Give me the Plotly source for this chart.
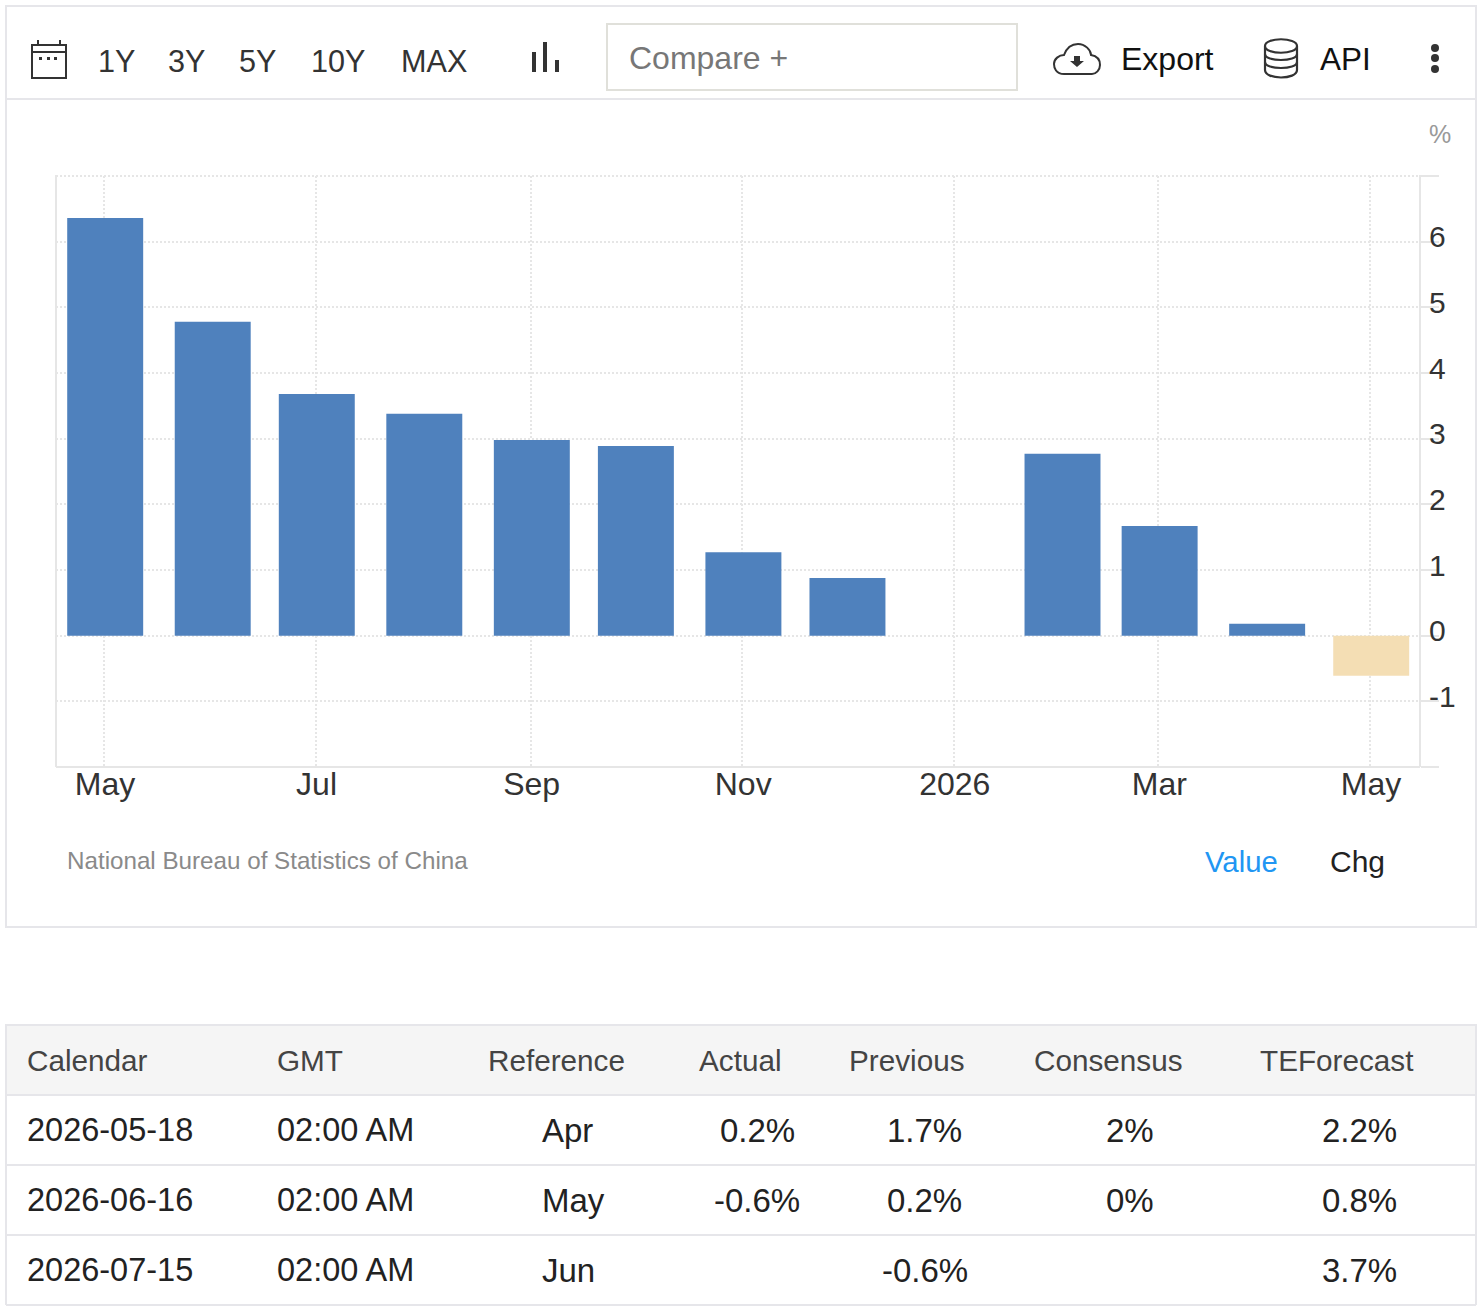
# Chart panel with toolbar, bars and calendar table

import plotly.graph_objects as go

W = 1482
H = 1308

# chart data
months = ["2025-05-01", "2025-06-01", "2025-07-01", "2025-08-01", "2025-09-01", "2025-10-01", "2025-11-01",
          "2025-12-01", "2026-01-01", "2026-02-01", "2026-03-01", "2026-04-01", "2026-05-01"]
values = [6.36, 4.78, 3.68, 3.38, 2.98, 2.89, 1.27, 0.88, None, 2.77, 1.67, 0.18, -0.61]
bar_colors = ["#4f81bd"] * 12 + ["#f4deb4"]

x_tick_vals = ["2025-05-01", "2025-07-01", "2025-09-01", "2025-11-01", "2026-01-01", "2026-03-01", "2026-05-01"]
x_tick_text = ["May", "Jul", "Sep", "Nov", "2026", "Mar", "May"]
y_tick_vals = [-2, -1, 0, 1, 2, 3, 4, 5, 6, 7]
y_tick_text = ["", "-1", "0", "1", "2", "3", "4", "5", "6", ""]

# toolbar text
ranges = ["1Y", "3Y", "5Y", "10Y", "MAX"]
range_x = [97, 167, 238, 310, 400]

# table
table_header = ["Calendar", "GMT", "Reference", "Actual", "Previous", "Consensus", "TEForecast"]
calendar = ["2026-05-18", "2026-06-16", "2026-07-15"]
gmt = ["02:00 AM", "02:00 AM", "02:00 AM"]
reference = ["Apr", "May", "Jun"]
actual = ["0.2%", "-0.6%", ""]
previous = ["1.7%", "0.2%", "-0.6%"]
consensus = ["2%", "0%", ""]
te_forecast = ["2.2%", "0.8%", "3.7%"]

FONT = "Liberation Sans"
DARK = "#333333"
LINE = "#e6e6ea"
GRID = "#e6e6e6"


def px(x):
    return x / W


def py(y):
    return 1 - y / H


def label(text, x, y, size, color=DARK, anchor="left"):
    return dict(text=text, x=px(x), y=py(y), xref="paper", yref="paper", xanchor=anchor, yanchor="middle",
                showarrow=False, borderpad=0, font=dict(family=FONT, size=size, color=color))


def rect(x0, y0, x1, y1, line=LINE, width=2, fill=None):
    return dict(type="rect", xref="paper", yref="paper", x0=px(x0), x1=px(x1), y0=py(y0), y1=py(y1),
                line=dict(color=line, width=width), fillcolor=fill, layer="below")


def seg(x0, y0, x1, y1, color=LINE, width=2, dash=None):
    return dict(type="line", xref="paper", yref="paper", x0=px(x0), x1=px(x1), y0=py(y0), y1=py(y1),
                line=dict(color=color, width=width, dash=dash), layer="below")


def dot(x, y, r=4):
    return dict(type="circle", xref="paper", yref="paper", x0=px(x - r), x1=px(x + r), y0=py(y - r), y1=py(y + r),
                fillcolor=DARK, line=dict(width=0))


def path(points, color=DARK, width=2, fill=None):
    # points are page pixels: ("M", x, y) or ("L", x, y) or ("C", x1, y1, x2, y2, x, y) or ("Z",)
    d = ""
    for p in points:
        d += p[0]
        coords = p[1:]
        d += " ".join(f"{px(coords[i]):.5f},{py(coords[i + 1]):.5f}" for i in range(0, len(coords), 2)) + " "
    return dict(type="path", xref="paper", yref="paper", path=d.strip(),
                line=dict(color=color, width=width), fillcolor=fill)


fig = go.Figure()
fig.add_trace(go.Bar(x=months, y=values, marker=dict(color=bar_colors, line=dict(width=0)),
                     width=21.9 * 86400000, offset=-10.6 * 86400000))

shapes = [
    # frames
    rect(6, 6, 1476, 927),
    seg(6, 99, 1476, 99),
    rect(607, 24, 1017, 90, line="#e0e0da"),
    # table background and rules
    rect(6, 1025, 1476, 1095, line=LINE, fill="#f5f5f5"),
    seg(6, 1165, 1476, 1165),
    seg(6, 1235, 1476, 1235),
    seg(6, 1305, 1476, 1305),
    seg(6, 1095, 6, 1305),
    seg(1476, 1095, 1476, 1305),
    # chart frame pieces
    seg(56, 175, 56, 767, color=GRID),
    seg(1420, 175, 1420, 767, color=GRID),
    seg(56, 767, 1420, 767, color=GRID),
    seg(56, 176, 1420, 176, color=GRID, dash="2px,2px"),
    # calendar icon
    rect(32, 45, 66, 78, line=DARK),
    seg(32, 52, 66, 52, color=DARK),
    seg(38, 40, 38, 45, color=DARK),
    seg(60, 40, 60, 45, color=DARK),
    rect(39, 57, 42, 60, line=DARK, width=0, fill=DARK),
    rect(47, 57, 50, 60, line=DARK, width=0, fill=DARK),
    rect(54, 57, 57, 60, line=DARK, width=0, fill=DARK),
    # chart type icon
    rect(532, 52, 536, 72, line=DARK, width=0, fill=DARK),
    rect(543, 42, 547, 72, line=DARK, width=0, fill=DARK),
    rect(555, 60, 559, 72, line=DARK, width=0, fill=DARK),
    # kebab
    dot(1435, 48),
    dot(1435, 58),
    dot(1435, 69),
    # cloud icon
    path([("M", 1064, 74), ("C", 1056, 74, 1054, 68, 1054, 64), ("C", 1054, 59, 1059, 55, 1064, 55),
          ("C", 1067, 47, 1073, 44, 1078, 44), ("C", 1085, 44, 1091, 50, 1091, 55),
          ("C", 1097, 56, 1100, 60, 1100, 65), ("C", 1100, 70, 1096, 74, 1092, 74), ("Z",)]),
    path([("M", 1074, 56), ("L", 1080, 56), ("L", 1080, 61), ("L", 1084, 61), ("L", 1077, 67),
          ("L", 1070, 61), ("L", 1074, 61), ("Z",)], width=0, fill=DARK),
    # database icon
    path([("M", 1265, 46), ("C", 1265, 37, 1297, 37, 1297, 46), ("C", 1297, 55, 1265, 55, 1265, 46),
          ("L", 1265, 70), ("C", 1265, 80, 1297, 80, 1297, 70), ("L", 1297, 46)], width=2.2),
    path([("M", 1265, 54), ("C", 1265, 62, 1297, 62, 1297, 54)], width=2.2),
    path([("M", 1265, 62), ("C", 1265, 70, 1297, 70, 1297, 62)], width=2.2),
]

annotations = [label(t, x, 61, 30.6) for t, x in zip(ranges, range_x)]
annotations += [
    label("Compare +", 627.5, 58, 32, color="#777777"),
    label("Export", 1120, 59, 32, color="#111111"),
    label("API", 1319, 59, 31.5, color="#111111"),
    label("%", 1440, 134, 25, color="#999999", anchor="center"),
    label("National Bureau of Statistics of China", 66, 860, 24.2, color="#8a8a8a"),
    label("Value", 1204, 861, 29.3, color="#2196f3"),
    label("Chg", 1328.5, 861, 30, color="#222222"),
]

# table text, one row of header and three of data
header_pos = [(26, "left"), (276, "left"), (556, "center"), (740.5, "center"), (906.5, "center"), (1108.5, "center"),
              (1336.5, "center")]
for text, (x, anchor) in zip(table_header, header_pos):
    annotations.append(label(text, x, 1060, 29.7, color="#444444", anchor=anchor))

row_y = [1130, 1200, 1270]
columns = [(calendar, 26, "left", 32.5), (gmt, 276, "left", 32.5), (reference, 541, "left", 33),
           (actual, 757, "center", 33), (previous, 925, "center", 33), (consensus, 1130, "center", 33),
           (te_forecast, 1359, "center", 33)]
for col, x, anchor, size in columns:
    for text, y in zip(col, row_y):
        if text:
            annotations.append(label(text, x, y, size, color="#222222", anchor=anchor))

fig.update_layout(
    width=W,
    height=H,
    margin=dict(l=0, r=0, t=0, b=0),
    paper_bgcolor="white",
    plot_bgcolor="white",
    showlegend=False,
    font=dict(family=FONT, color=DARK),
    shapes=shapes,
    annotations=annotations,
    xaxis=dict(
        domain=[px(56), px(1420)],
        type="date",
        range=["2025-04-17 04:00", "2026-05-15 10:00"],
        tickmode="array",
        tickvals=x_tick_vals,
        ticktext=x_tick_text,
        ticks="",
        ticklabelstandoff=-5,
        ticklabelshift=1,
        tickfont=dict(family=FONT, size=32, color=DARK),
        showgrid=True,
        gridcolor=GRID,
        griddash="2px,2px",
        gridwidth=2,
        showline=False,
        zeroline=False,
    ),
    yaxis=dict(
        domain=[py(767), py(176)],
        side="right",
        anchor="x",
        range=[-2, 7],
        tickmode="array",
        tickvals=y_tick_vals,
        ticktext=y_tick_text,
        ticks="outside",
        ticklen=18,
        tickwidth=2,
        tickcolor=GRID,
        ticklabelstandoff=-16,
        ticklabelshift=-5,
        tickfont=dict(family=FONT, size=30, color=DARK),
        showgrid=True,
        gridcolor=GRID,
        griddash="2px,2px",
        gridwidth=2,
        showline=False,
        zeroline=False,
    ),
)

fig.write_html("out.html", config=dict(displayModeBar=False),
               post_script="document.body.style.margin='0';document.body.style.overflow='hidden';")
